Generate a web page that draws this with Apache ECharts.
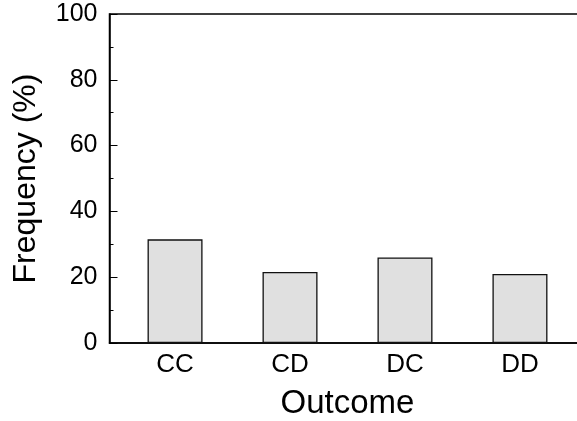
<!DOCTYPE html>
<html>
<head>
<meta charset="utf-8">
<script src="https://cdn.jsdelivr.net/npm/echarts@6/dist/echarts.min.js"></script>
<style>
html,body{margin:0;padding:0;background:#fff;}
#chart{width:577px;height:421px;}
</style>
</head>
<body>
<div id="chart"></div>
<script>
const categories = ["CC", "CD", "DC", "DD"];
const frequencies = [31.5, 21.6, 26.0, 21.0];
const yTicks = [0, 20, 40, 60, 80, 100];
const xAxisTitle = "Outcome";
const yAxisTitle = "Frequency (%)";

const positions = categories.map((c, i) => i + 1);
const barData = positions.map((p, i) => [p, frequencies[i]]);
const font = "'Liberation Sans', Arial, Helvetica, sans-serif";

const chart = echarts.init(document.getElementById('chart'), null, {renderer: 'canvas'});
chart.setOption({
  animation: false,
  backgroundColor: '#ffffff',
  grid: {
    left: 109.5, top: 14, width: 476, bottom: 78,
    outerBoundsMode: 'none', containLabel: false,
    show: true, borderColor: '#000', borderWidth: 1.5, backgroundColor: 'transparent'
  },
  xAxis: {
    type: 'value',
    min: 0.43, max: 4.57,
    name: xAxisTitle,
    nameLocation: 'middle',
    nameGap: 44,
    nameTextStyle: {fontFamily: font, fontSize: 33, color: '#000'},
    axisLine: {show: true, lineStyle: {color: '#000', width: 1.5}},
    axisTick: {show: true, inside: true, length: 8, customValues: positions, lineStyle: {color: '#333', width: 1}},
    axisLabel: {
      customValues: positions,
      margin: 9,
      fontFamily: font, fontSize: 26, color: '#000',
      formatter: v => categories[Math.round(v) - 1] || ''
    },
    splitLine: {show: false}
  },
  yAxis: {
    type: 'value',
    min: 0, max: 100, interval: 20,
    name: yAxisTitle,
    nameLocation: 'middle',
    nameGap: 67,
    nameTextStyle: {fontFamily: font, fontSize: 32, color: '#000'},
    axisLine: {show: true, lineStyle: {color: '#000', width: 1.5}},
    axisTick: {show: true, inside: true, length: 8, lineStyle: {color: '#000', width: 1}},
    minorTick: {show: true, splitNumber: 2, length: 4, lineStyle: {color: '#000', width: 1}},
    axisLabel: {
      margin: 12,
      fontFamily: font, fontSize: 25, color: '#000',
      formatter: v => yTicks.includes(v) ? String(v) : ''
    },
    splitLine: {show: false}
  },
  series: [{
    type: 'bar',
    data: barData,
    barWidth: 55,
    itemStyle: {color: '#e0e0e0', borderColor: '#111', borderWidth: 1.3}
  }]
});
</script>
</body>
</html>
